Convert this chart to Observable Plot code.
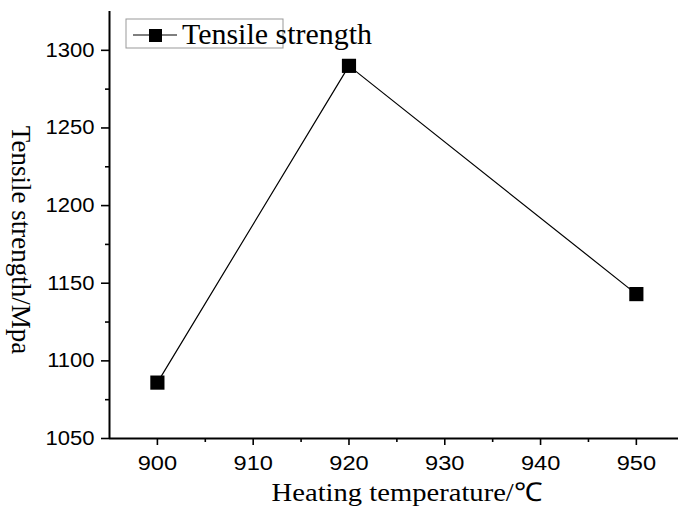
<!DOCTYPE html>
<html><head><meta charset="utf-8">
<script src="https://cdn.jsdelivr.net/npm/d3@7"></script>
<script src="https://cdn.jsdelivr.net/npm/@observablehq/plot@0.6"></script>
<style>body{margin:0;background:#fff}</style>
</head><body><div id="chart"></div>
<script>
const temperatures = [900, 920, 950];
const strengths = [1086, 1290, 1143];
const seriesName = "Tensile strength";
const xTicks = [900, 910, 920, 930, 940, 950];
const xMinorTicks = [905, 915, 925, 935, 945];
const yTicks = [1050, 1100, 1150, 1200, 1250, 1300];
const yMinorTicks = [1075, 1125, 1175, 1225, 1275];
const xLabel = "Heating temperature/℃";
const yLabel = "Tensile strength/Mpa";

const data = temperatures.map((t, i) => ({t, s: strengths[i]}));
const sans = "Liberation Sans, Arial, sans-serif";
const serif = "Liberation Serif, Times New Roman, serif";
const fmt = d => String(d);

const plot = Plot.plot({
  width: 678, height: 512,
  marginLeft: 109, marginRight: 0, marginTop: 11, marginBottom: 74,
  style: {background: "#fff", color: "#000", fontFamily: sans},
  x: {domain: [895, 954.4]},
  y: {domain: [1050, 1325]},
  marks: [
    Plot.axisY(yTicks, {tickSize: 8, tickPadding: 7, fontSize: 20, strokeWidth: 1.6, label: null, tickFormat: fmt, className: "ytick"}),
    Plot.axisY(yMinorTicks, {tickSize: 4, tickFormat: () => "", strokeWidth: 1.6, label: null}),
    Plot.axisX(xTicks, {tickSize: 7, tickPadding: 10, fontSize: 20, strokeWidth: 1.6, label: null, tickFormat: fmt, className: "xtick"}),
    Plot.axisX(xMinorTicks, {tickSize: 4, tickFormat: () => "", strokeWidth: 1.6, label: null}),
    Plot.ruleX([895], {strokeWidth: 2}),
    Plot.ruleY([1050], {strokeWidth: 2}),
    Plot.line(data, {x: "t", y: "s", stroke: "#000", strokeWidth: 1.2}),
    Plot.dot(data, {x: "t", y: "s", symbol: "square", r: 8, fill: "#000", stroke: "none"}),
    Plot.text([xLabel], {frameAnchor: "bottom", textAnchor: "middle", dx: 13, dy: 62, fontSize: 26, fontFamily: serif, className: "xlab"}),
    Plot.text([yLabel], {frameAnchor: "left", textAnchor: "middle", rotate: 90, dx: -89, dy: 15, fontSize: 27, fontFamily: serif, className: "ylab"})
  ]
});
document.getElementById("chart").appendChild(plot);

const svg = d3.select(plot);
function stretch(sel, k) {
  svg.selectAll(sel).each(function() {
    const w = this.getComputedTextLength();
    if (w > 0) {
      this.setAttribute("textLength", (w * k).toFixed(1));
      this.setAttribute("lengthAdjust", "spacingAndGlyphs");
    }
  });
}
stretch(".ytick text", 1.1);
stretch(".xtick text", 1.18);
stretch(".xlab text", 1.1);

// legend
const lg = svg.append("g");
lg.append("rect").attr("x", 126).attr("y", 19).attr("width", 157).attr("height", 29)
  .attr("fill", "none").attr("stroke", "#999").attr("stroke-width", 1);
lg.append("line").attr("x1", 133).attr("x2", 177).attr("y1", 35).attr("y2", 35)
  .attr("stroke", "#000").attr("stroke-width", 1.2);
lg.append("rect").attr("x", 149).attr("y", 29).attr("width", 13).attr("height", 13).attr("fill", "#000");
const lt = lg.append("text").attr("x", 182).attr("y", 44).attr("text-anchor", "start")
  .attr("font-family", serif).attr("font-size", 29).attr("fill", "#000").text(seriesName);
const lw = lt.node().getComputedTextLength();
if (lw > 0) lt.attr("textLength", 190).attr("lengthAdjust", "spacingAndGlyphs");
</script>
</body></html>
